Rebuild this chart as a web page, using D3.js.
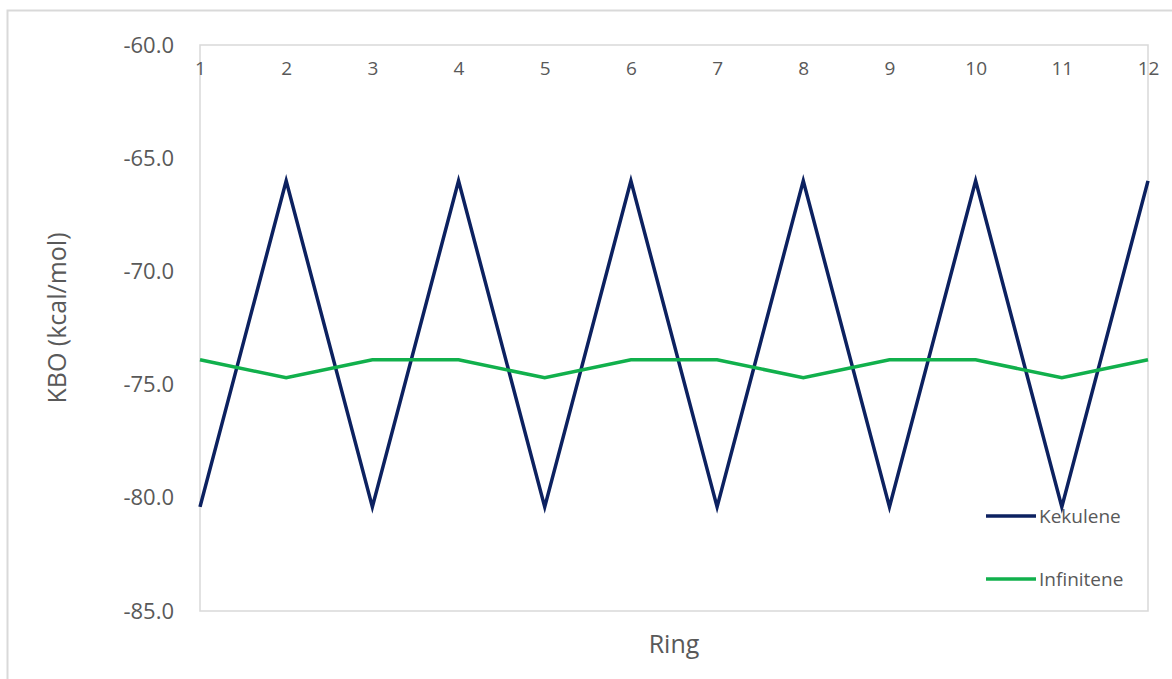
<!DOCTYPE html>
<html>
<head>
<meta charset="utf-8">
<script src="https://cdn.jsdelivr.net/npm/d3@7"></script>
<style>
  body { margin: 0; background: #fff; }
  text { font-family: "Open Sans", sans-serif; fill: #595959; }
</style>
</head>
<body>
<div id="chart"></div>
<script>
// data
var rings = [1, 2, 3, 4, 5, 6, 7, 8, 9, 10, 11, 12]
var kekulene = [-80.4, -66.0, -80.4, -66.0, -80.4, -66.0, -80.4, -66.0, -80.4, -66.0, -80.4, -66.0]
var infinitene = [-73.9, -74.7, -73.9, -73.9, -74.7, -73.9, -73.9, -74.7, -73.9, -73.9, -74.7, -73.9]
var y_ticks = [-60, -65, -70, -75, -80, -85]

var series = [
  {name: "Kekulene", values: kekulene, color: "#0c2160"},
  {name: "Infinitene", values: infinitene, color: "#11b04c"}
]

var width = 1172, height = 679
var margin = {top: 45, right: 24, bottom: 68, left: 200}

// excel style labels with a plain hyphen
var fmt = d3.formatLocale({decimal: ".", thousands: ",", grouping: [3], currency: ["", ""], minus: "-"}).format(".1f")

var svg = d3.select("#chart")
  .append("svg")
  .attr("width", width)
  .attr("height", height)

// outer chart frame
svg.append("rect")
  .attr("x", 7.5)
  .attr("y", 10.5)
  .attr("width", width + 20)
  .attr("height", height + 20)
  .attr("fill", "none")
  .attr("stroke", "#d9d9d9")
  .attr("stroke-width", 2)

var x = d3.scaleLinear()
  .domain([1, 12])
  .range([margin.left, width - margin.right])

var y = d3.scaleLinear()
  .domain([-85, -60])
  .range([height - margin.bottom, margin.top])

// plot area border
svg.append("rect")
  .attr("x", x(1))
  .attr("y", y(-60))
  .attr("width", x(12) - x(1))
  .attr("height", y(-85) - y(-60))
  .attr("fill", "none")
  .attr("stroke", "#d9d9d9")
  .attr("stroke-width", 1.5)

var line = d3.line()
  .x(function(d, i){return x(rings[i])})
  .y(function(d){return y(d)})

svg.selectAll(".series")
  .data(series)
  .enter()
  .append("path")
  .attr("class", "series")
  .attr("d", function(d){return line(d.values)})
  .attr("fill", "none")
  .attr("stroke", function(d){return d.color})
  .attr("stroke-width", 3.5)
  .attr("stroke-linejoin", "miter")

// y axis labels
var yAxis = d3.axisLeft(y)
  .tickValues(y_ticks)
  .tickFormat(fmt)
  .tickSize(0)
  .tickPadding(26)

var gy = svg.append("g")
  .attr("transform", "translate(" + x(1) + ",0)")
  .call(yAxis)
gy.select(".domain").remove()
gy.selectAll("text")
  .style("font-size", "22px")
  .style("font-family", "'Open Sans', sans-serif")
  .attr("fill", "#595959")

// x axis labels, drawn inside the top of the plot
var xAxis = d3.axisBottom(x)
  .tickValues(rings)
  .tickFormat(d3.format("d"))
  .tickSize(0)
  .tickPadding(17)

var gx = svg.append("g")
  .attr("transform", "translate(0," + y(-60) + ")")
  .call(xAxis)
gx.select(".domain").remove()
gx.selectAll("text")
  .style("font-size", "19px")
  .style("font-family", "'Open Sans', sans-serif")
  .attr("fill", "#595959")

// axis titles
svg.append("text")
  .attr("transform", "translate(57,318) rotate(-90)")
  .attr("text-anchor", "middle")
  .attr("dy", "0.35em")
  .style("font-size", "25px")
  .text("KBO (kcal/mol)")

svg.append("text")
  .attr("x", (x(1) + x(12)) / 2)
  .attr("y", 644)
  .attr("text-anchor", "middle")
  .attr("dy", "0.35em")
  .style("font-size", "25px")
  .text("Ring")

// legend
var legend = svg.selectAll(".legend")
  .data(series)
  .enter()
  .append("g")
  .attr("class", "legend")
  .attr("transform", function(d, i){return "translate(986," + (516 + i * 63) + ")"})

legend.append("line")
  .attr("x1", 0)
  .attr("x2", 50)
  .attr("stroke", function(d){return d.color})
  .attr("stroke-width", 3.5)

legend.append("text")
  .attr("x", 53)
  .attr("dy", "0.35em")
  .style("font-size", "19px")
  .text(function(d){return d.name})
</script>
</body>
</html>
